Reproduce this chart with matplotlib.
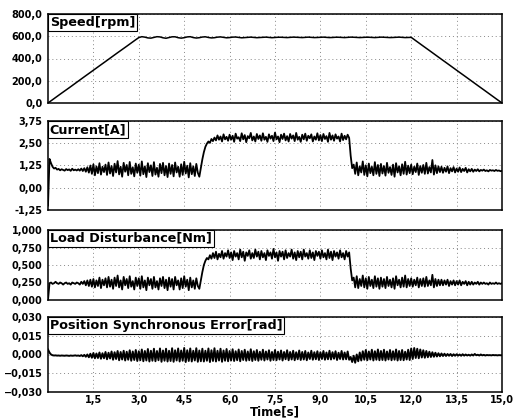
import numpy as np
import matplotlib
matplotlib.use("Agg")
import matplotlib.pyplot as plt
from matplotlib.ticker import FixedLocator, FuncFormatter

# speed sampled every 0.1 s, the other signals every 0.05 s
SPEED_DT = 0.1
SIGNAL_DT = 0.05

speed_rise = [0, 20, 39, 59, 79, 98, 118, 137, 157, 177,
              196, 216, 236, 255, 275, 295, 314, 334, 353, 373,
              393, 412, 432, 452, 471, 491, 510, 530, 550, 569, 588]
speed_run = [596, 592, 585, 583, 589, 596, 594, 586, 582, 588,
             595, 595, 587, 583, 587, 594, 596, 588, 584, 587,
             593, 595, 589, 585, 587, 592, 594, 590, 586, 588,
             592, 593, 589, 586, 588, 591, 592, 589, 587, 589,
             591, 592, 589, 587, 589, 591, 591, 589, 588, 590,
             592, 591, 589, 588, 590, 592, 590, 588, 589, 591,
             592, 590, 588, 589, 591, 591, 589, 588, 590, 592,
             591, 589, 588, 590, 591, 591, 589, 588, 590, 592,
             591, 589, 588, 589, 591, 592, 590, 588, 589]
speed_stop = [590, 570, 551, 531, 511, 492, 472, 452, 433, 413,
              393, 374, 354, 334, 315, 295, 275, 256, 236, 216,
              197, 177, 157, 138, 118, 98, 79, 59, 39, 20, 0]

current_a = [
    -1.0, 1.62, 1.38, 1.18, 1.08, 1.12, 1.02, 1.06, 0.98, 1.04, 1.00, 0.96, 1.05, 0.99, 1.03, 0.95, 1.07, 0.98, 1.02, 0.97,
    1.04, 0.96, 1.08, 0.94, 1.10, 0.90, 1.15, 0.85, 1.25, 0.78, 1.32, 0.70, 1.20, 0.82, 1.38, 0.74, 1.18, 0.88, 1.30, 0.72,
    1.42, 0.80, 1.22, 0.66, 1.35, 0.86, 1.50, 0.75, 1.18, 0.62, 1.40, 0.90, 1.28, 0.70, 1.45, 0.78, 1.15, 0.64, 1.36, 0.84,
    1.30, 0.68, 1.48, 0.76, 1.20, 0.60, 1.38, 0.88, 1.26, 0.66, 1.44, 0.74, 1.12, 0.62, 1.34, 0.82, 1.40, 0.70, 1.22, 0.60,
    1.36, 0.78, 1.28, 0.64, 1.42, 0.86, 1.18, 0.62, 1.32, 0.72, 1.46, 0.80, 1.24, 0.58, 1.38, 0.76, 1.20, 0.66, 1.34, 0.84,
    0.62, 1.10, 1.60, 2.00, 2.30, 2.48, 2.60, 2.52, 2.74, 2.62, 2.82, 2.66, 2.94, 2.70, 2.88, 2.60, 3.00, 2.72, 2.86, 2.64,
    2.98, 2.70, 2.92, 2.58, 3.04, 2.76, 2.84, 2.62, 3.06, 2.72, 2.96, 2.56, 2.90, 2.78, 3.08, 2.66, 2.88, 2.60, 3.02, 2.74,
    2.94, 2.64, 3.06, 2.70, 2.86, 2.58, 3.00, 2.76, 2.92, 2.62, 3.10, 2.72, 2.88, 2.56, 2.98, 2.74, 3.04, 2.66, 2.90, 2.60,
    3.02, 2.76, 2.94, 2.62, 3.08, 2.70, 2.86, 2.58, 2.98, 2.72, 3.04, 2.64, 2.92, 2.78, 3.00, 2.60, 2.88, 2.70, 3.06, 2.66,
    2.96, 2.62, 3.02, 2.74, 2.90, 2.58, 3.08, 2.70, 2.94, 2.64, 3.00, 2.76, 2.88, 2.60, 3.04, 2.68, 2.92, 2.72, 2.98, 2.80,
    1.80, 1.10, 1.30, 0.78, 1.42, 0.70, 1.20, 0.86, 1.48, 0.72, 1.26, 0.64, 1.36, 0.82, 1.18, 0.70, 1.44, 0.78, 1.28, 0.66,
    1.34, 0.80, 1.22, 0.68, 1.40, 0.84, 1.16, 0.72, 1.30, 0.62, 1.38, 0.86, 1.20, 0.70, 1.32, 0.78, 1.46, 0.74, 1.24, 0.82,
    1.30, 0.76, 1.18, 0.88, 1.36, 0.72, 1.22, 0.84, 1.28, 0.78, 1.40, 0.80, 1.16, 0.86, 1.56, 0.74, 1.26, 0.82, 1.20, 0.88,
    1.18, 0.84, 1.12, 0.90, 1.20, 0.82, 1.10, 0.92, 1.16, 0.86, 1.08, 0.90, 1.14, 0.88, 1.06, 0.94, 1.12, 0.86, 1.04, 0.92,
    1.06, 0.90, 1.02, 0.94, 1.04, 0.92, 1.00, 0.96, 1.02, 0.94, 0.98, 0.92, 1.00, 0.96, 0.98, 0.94, 1.00, 0.95, 0.97, 0.93,
    0.95]

load_nm = [
    0.00, 0.24, 0.25, 0.23, 0.24, 0.26, 0.24, 0.23, 0.25, 0.24, 0.22, 0.24, 0.25, 0.23, 0.24, 0.22, 0.25, 0.24, 0.23, 0.25,
    0.24, 0.22, 0.26, 0.23, 0.27, 0.21, 0.28, 0.20, 0.29, 0.19, 0.30, 0.18, 0.28, 0.20, 0.32, 0.17, 0.29, 0.21, 0.31, 0.18,
    0.33, 0.19, 0.29, 0.16, 0.32, 0.20, 0.35, 0.18, 0.28, 0.15, 0.33, 0.21, 0.30, 0.17, 0.34, 0.19, 0.27, 0.15, 0.32, 0.20,
    0.31, 0.16, 0.34, 0.18, 0.28, 0.14, 0.32, 0.21, 0.30, 0.16, 0.33, 0.18, 0.27, 0.15, 0.31, 0.20, 0.33, 0.17, 0.29, 0.14,
    0.32, 0.19, 0.30, 0.15, 0.33, 0.21, 0.28, 0.15, 0.31, 0.17, 0.34, 0.19, 0.29, 0.14, 0.32, 0.18, 0.28, 0.16, 0.31, 0.20,
    0.16, 0.28, 0.40, 0.50, 0.56, 0.60, 0.58, 0.64, 0.59, 0.67, 0.60, 0.69, 0.58, 0.66, 0.61, 0.70, 0.59, 0.67, 0.62, 0.71,
    0.60, 0.68, 0.57, 0.70, 0.62, 0.67, 0.58, 0.72, 0.61, 0.69, 0.56, 0.68, 0.63, 0.71, 0.59, 0.67, 0.60, 0.72, 0.62, 0.69,
    0.58, 0.70, 0.61, 0.67, 0.57, 0.71, 0.63, 0.68, 0.59, 0.73, 0.61, 0.68, 0.56, 0.70, 0.62, 0.69, 0.58, 0.71, 0.60, 0.67,
    0.62, 0.72, 0.59, 0.68, 0.57, 0.70, 0.61, 0.69, 0.58, 0.72, 0.62, 0.67, 0.59, 0.71, 0.60, 0.68, 0.57, 0.70, 0.63, 0.69,
    0.59, 0.71, 0.61, 0.67, 0.58, 0.72, 0.60, 0.69, 0.57, 0.70, 0.62, 0.68, 0.59, 0.71, 0.61, 0.67, 0.58, 0.70, 0.62, 0.68,
    0.45, 0.28, 0.32, 0.18, 0.34, 0.17, 0.30, 0.20, 0.35, 0.18, 0.31, 0.16, 0.33, 0.20, 0.29, 0.17, 0.34, 0.19, 0.31, 0.16,
    0.32, 0.19, 0.30, 0.17, 0.33, 0.20, 0.29, 0.18, 0.31, 0.16, 0.34, 0.21, 0.29, 0.18, 0.32, 0.19, 0.35, 0.18, 0.30, 0.20,
    0.31, 0.19, 0.29, 0.21, 0.32, 0.18, 0.30, 0.20, 0.31, 0.19, 0.33, 0.20, 0.28, 0.21, 0.36, 0.18, 0.30, 0.20, 0.29, 0.21,
    0.29, 0.21, 0.28, 0.22, 0.29, 0.20, 0.27, 0.22, 0.28, 0.21, 0.27, 0.22, 0.28, 0.21, 0.26, 0.23, 0.27, 0.21, 0.26, 0.22,
    0.26, 0.22, 0.25, 0.23, 0.26, 0.22, 0.25, 0.23, 0.25, 0.23, 0.24, 0.22, 0.25, 0.23, 0.24, 0.23, 0.25, 0.23, 0.24, 0.23,
    0.24]

# position error in mrad, converted to rad when plotted
pos_err_mrad = [
    4.0, 1.5, 0.0, -0.6, -0.8, -0.7, -0.9, -0.8, -1.0, -0.8, -0.9, -1.0, -0.8, -0.9, -1.1, -0.8, -1.0, -0.9, -0.7, -1.0,
    -0.8, -1.2, -0.5, -1.4, -0.3, -1.8, 0.0, -2.2, 0.6, -2.6, 1.2, -3.0, 0.8, -2.8, 1.6, -3.4, 1.0, -3.0, 2.0, -3.8,
    1.4, -3.2, 2.4, -4.2, 1.8, -3.6, 2.8, -4.6, 2.0, -4.0, 3.0, -4.8, 2.2, -4.2, 3.4, -5.0, 2.4, -4.4, 3.6, -5.2,
    2.6, -4.6, 4.0, -5.4, 2.8, -4.8, 4.4, -5.6, 3.0, -5.0, 4.6, -5.4, 2.8, -4.6, 4.8, -5.8, 3.2, -5.0, 4.6, -5.6,
    3.0, -5.2, 5.0, -5.8, 3.4, -4.8, 4.8, -5.6, 3.2, -5.0, 5.2, -6.0, 3.4, -5.2, 4.8, -5.6, 3.0, -4.8, 5.0, -5.8,
    3.2, -5.4, 4.6, -5.6, 3.0, -5.0, 4.8, -6.0, 3.4, -5.2, 5.0, -5.6, 3.0, -4.8, 4.6, -5.8, 3.2, -5.0, 4.4, -5.4,
    2.8, -4.8, 4.2, -5.2, 2.6, -4.6, 4.0, -5.4, 2.8, -4.4, 3.8, -5.0, 2.4, -4.6, 4.2, -5.2, 2.6, -4.4, 3.6, -5.0,
    2.2, -4.2, 3.8, -4.8, 2.4, -4.0, 3.4, -5.0, 2.0, -4.4, 3.6, -4.6, 2.2, -4.0, 3.2, -4.8, 2.0, -3.8, 3.4, -4.6,
    2.0, -4.0, 3.0, -4.6, 1.8, -3.8, 3.2, -4.4, 2.0, -4.0, 2.8, -4.6, 1.6, -3.6, 3.0, -4.2, 1.8, -3.8, 2.6, -4.4,
    1.8, -3.6, 2.8, -4.2, 1.6, -3.8, 3.0, -4.0, 1.8, -3.4, 2.6, -4.4, 1.4, -3.6, 2.8, -4.0, 1.6, -3.8, 2.4, -4.2,
    -2.0, -6.0, -1.0, -6.6, 0.0, -5.4, 1.6, -4.8, 2.6, -4.2, 3.6, -4.6, 2.4, -4.0, 3.8, -4.8, 2.6, -4.2, 4.0, -4.6,
    2.8, -4.4, 3.8, -4.8, 2.4, -4.0, 3.6, -4.6, 2.6, -4.2, 4.0, -4.8, 2.8, -4.4, 3.6, -4.6, 2.2, -4.0, 3.8, -4.4,
    4.8, -3.6, 5.2, -2.8, 4.6, -3.0, 4.0, -2.4, 3.4, -2.6, 2.8, -2.2, 2.2, -2.0, 1.8, -1.8, 1.4, -1.6, 1.0, -1.4,
    0.8, -1.2, 0.6, -1.2, 0.4, -1.0, 0.4, -1.2, 0.2, -1.0, 0.2, -0.9, 0.0, -1.0, 0.2, -0.9, 0.0, -0.8, -0.2, -0.9,
    0.0, -0.8, 0.4, -0.6, -0.2, -0.8, 0.0, -0.7, -0.3, -0.8, -0.4, -0.6, -0.5, -0.7, -0.4, -0.6, -0.5, -0.7, -0.5, -0.6,
    -0.6]

titles = ["Speed[rpm]", "Current[A]", "Load Disturbance[Nm]", "Position Synchronous Error[rad]"]
speed_ticks = [0, 200, 400, 600, 800]
current_ticks = [-1.25, 0.0, 1.25, 2.5, 3.75]
load_ticks = [0.0, 0.25, 0.5, 0.75, 1.0]
pos_ticks = [-0.03, -0.015, 0.0, 0.015, 0.03]
time_ticks = [1.5, 3.0, 4.5, 6.0, 7.5, 9.0, 10.5, 12.0, 13.5, 15.0]

speed = speed_rise + speed_run + speed_stop
t_speed = np.arange(len(speed)) * SPEED_DT
t_sig = np.arange(len(current_a)) * SIGNAL_DT

plt.rcParams['font.family'] = 'DejaVu Sans'
plt.rcParams['font.weight'] = 'bold'

fig = plt.figure(figsize=(5.15, 4.18), dpi=100)
W, H = 515.0, 418.0
# pixel boxes (top, bottom) for each panel
boxes = [(14, 103), (121, 210), (230, 300), (317, 392)]
axes = []
for top, bot in boxes:
    axes.append(fig.add_axes([48 / W, 1 - bot / H, 454 / W, (bot - top) / H]))


def comma_fmt(decimals, minus="-"):
    def f(v, pos):
        s = f"{abs(v):.{decimals}f}".replace(".", ",")
        return (minus + s) if v < -1e-12 else s
    return FuncFormatter(f)


series = [
    (t_speed, speed, speed_ticks, comma_fmt(1), 1.1),
    (t_sig, current_a, current_ticks, comma_fmt(2), 1.3),
    (t_sig, load_nm, load_ticks, comma_fmt(3), 1.3),
    (t_sig, np.array(pos_err_mrad) / 1000.0, pos_ticks, comma_fmt(3, "\u2212"), 1.4),
]

for ax, (t, y, yt, fmt, lw), title in zip(axes, series, titles):
    ax.plot(t, y, color="black", lw=lw)
    ax.set_xlim(0, 15)
    ax.set_ylim(yt[0], yt[-1])
    ax.yaxis.set_major_locator(FixedLocator(yt))
    ax.yaxis.set_major_formatter(fmt)
    ax.xaxis.set_major_locator(FixedLocator(time_ticks))
    ax.grid(True, color="#888888", lw=0.7, linestyle=(0, (1, 3)))
    ax.tick_params(length=0, pad=4, labelsize=7)
    for s in ax.spines.values():
        s.set_linewidth(1.1)
    ax.text(0.004, 0.975, title, transform=ax.transAxes, ha="left", va="top",
            fontsize=9.2, fontweight="bold",
            bbox=dict(boxstyle="square,pad=0.15", fc="white", ec="black", lw=0.8))
    if ax is not axes[-1]:
        ax.tick_params(labelbottom=False)

axes[-1].xaxis.set_major_formatter(comma_fmt(1))
axes[-1].tick_params(axis="x", pad=2)
fig.text(275 / W, 1 - 412 / H, "Time[s]", ha="center", va="center", fontsize=8.5, fontweight="bold")

fig.savefig("out.png", dpi=100)
